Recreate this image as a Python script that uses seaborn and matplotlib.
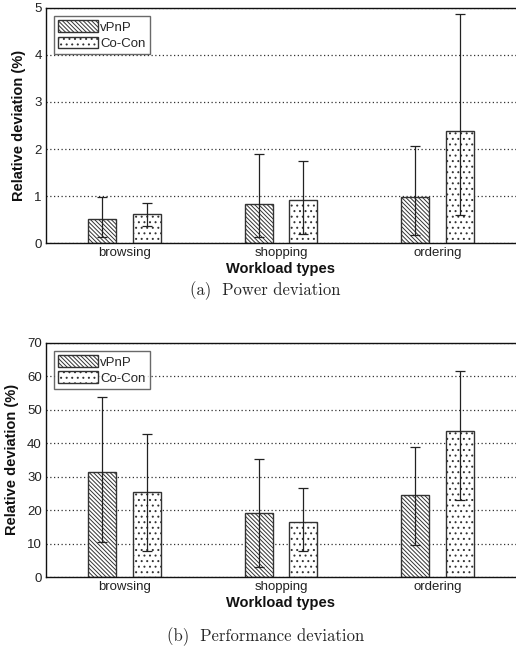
import matplotlib
matplotlib.use("Agg")
import matplotlib.pyplot as plt
import seaborn as sns
import pandas as pd
import numpy as np

categories = ["browsing", "shopping", "ordering"]
methods = ["vPnP", "Co-Con"]

power_vpnp = [0.51, 0.83, 0.97]
power_cocon = [0.62, 0.91, 2.38]
power_vpnp_lo = [0.12, 0.12, 0.17]
power_vpnp_hi = [0.97, 1.90, 2.06]
power_cocon_lo = [0.36, 0.19, 0.60]
power_cocon_hi = [0.86, 1.75, 4.87]

perf_vpnp = [31.4, 19.2, 24.6]
perf_cocon = [25.5, 16.4, 43.5]
perf_vpnp_lo = [10.5, 3.1, 9.6]
perf_vpnp_hi = [53.8, 35.4, 38.8]
perf_cocon_lo = [7.8, 7.8, 23.0]
perf_cocon_hi = [42.8, 26.5, 61.4]

power_yticks = [0, 1, 2, 3, 4, 5]
perf_yticks = [0, 10, 20, 30, 40, 50, 60, 70]

sns.set_theme(style="white")
plt.rcParams['font.family'] = ['Liberation Sans', 'DejaVu Sans']
plt.rcParams['hatch.linewidth'] = 0.7
plt.rcParams['hatch.color'] = '#222222'

fig = plt.figure(figsize=(5.16, 6.54), dpi=100)
ax1 = fig.add_axes([0.0891, 0.6284, 0.9109, 0.3594])
ax2 = fig.add_axes([0.0891, 0.1177, 0.9109, 0.3583])

edge = "#333333"
hatches = {"vPnP": "\\" * 8, "Co-Con": "..."}


def draw(ax, v1, v2, lo1, hi1, lo2, hi2, yticks, caption, cap_y):
    df = pd.DataFrame({
        "cat": categories * 2,
        "method": [methods[0]] * 3 + [methods[1]] * 3,
        "val": list(v1) + list(v2),
    })
    sns.barplot(data=df, x="cat", y="val", hue="method", order=categories,
                hue_order=methods, palette=["white", "white"], width=0.572,
                gap=0.378, errorbar=None, edgecolor=edge, linewidth=1.0,
                ax=ax, legend=True)
    bars = ax.patches[:6]
    for i, p in enumerate(bars):
        p.set_hatch(hatches[methods[i // 3]])
    los = list(lo1) + list(lo2)
    his = list(hi1) + list(hi2)
    vals = list(v1) + list(v2)
    for i, p in enumerate(bars):
        xc = p.get_x() + p.get_width() / 2
        ax.errorbar([xc], [vals[i]],
                    yerr=[[vals[i] - los[i]], [his[i] - vals[i]]],
                    fmt="none", ecolor="#222222", elinewidth=0.9,
                    capsize=3.6, capthick=0.9, zorder=5)
    ax.set_xlim(0.5 - 1, 3.5 - 1)
    ax.set_ylim(yticks[0], yticks[-1])
    ax.set_yticks(yticks)
    ax.yaxis.grid(True, linestyle=(0, (1, 2)), color="#333333", linewidth=0.9)
    ax.xaxis.grid(False)
    ax.set_axisbelow(True)
    for s in ["left", "bottom", "top"]:
        ax.spines[s].set_visible(True)
        ax.spines[s].set_color("#111111")
        ax.spines[s].set_linewidth(1.0)
    ax.spines["right"].set_visible(False)
    ax.tick_params(axis="both", labelsize=9.5, colors="#222222", length=0,
                   pad=3)
    ax.set_ylabel("Relative deviation (%)", fontsize=10.5, fontweight="bold",
                  labelpad=6, color="#111111")
    ax.set_xlabel("Workload types", fontsize=10.5, fontweight="bold",
                  labelpad=2, color="#111111")
    leg = ax.legend(loc="upper left", bbox_to_anchor=(0.012, 0.975),
                    fontsize=9.5, frameon=True, fancybox=False,
                    handlelength=3.0, handleheight=1.0, handletextpad=0.2,
                    borderpad=0.3, labelspacing=0.2, borderaxespad=0.2)
    leg.get_frame().set_edgecolor("#444444")
    leg.get_frame().set_linewidth(1.0)
    for h, m in zip(leg.get_patches(), methods):
        h.set_hatch(hatches[m])
        h.set_facecolor("white")
        h.set_edgecolor(edge)
    fig.text(0.515, cap_y, caption, ha="center", va="center",
             fontsize=12, family=["cmr10", "DejaVu Serif"])


draw(ax1, power_vpnp, power_cocon, power_vpnp_lo, power_vpnp_hi,
     power_cocon_lo, power_cocon_hi, power_yticks, "(a)  Power deviation",
     1 - 291 / 654)
draw(ax2, perf_vpnp, perf_cocon, perf_vpnp_lo, perf_vpnp_hi,
     perf_cocon_lo, perf_cocon_hi, perf_yticks, "(b)  Performance deviation",
     1 - 637 / 654)

fig.savefig("out.png", dpi=100, facecolor="white")
